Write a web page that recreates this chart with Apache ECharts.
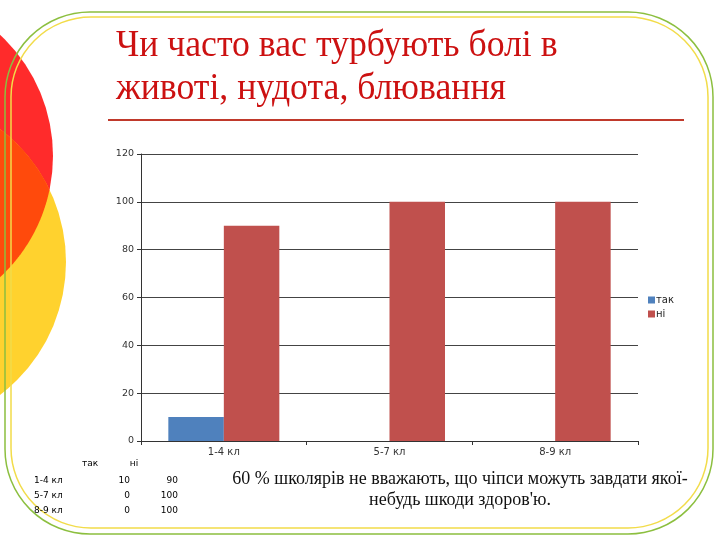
<!DOCTYPE html>
<html><head><meta charset="utf-8">
<script src="https://cdn.jsdelivr.net/npm/echarts@6/dist/echarts.min.js"></script>
<style>html,body{margin:0;padding:0;background:#fff}#c{width:720px;height:540px}</style>
</head><body><div id="c"></div>
<script>
const categories = ['1-4 кл', '5-7 кл', '8-9 кл'];
const tableRows = ['1-4 кл', '5-7 кл', '8-9 кл'];
const seriesNames = ['так', 'ні'];
const yesValues = [10, 0, 0];
const noValues = [90, 100, 100];
const yTicks = [0, 20, 40, 60, 80, 100, 120];
const titleLines = ['Чи часто вас турбують болі в', 'животі, нудота, блювання'];
const noteLines = ["60 % школярів не вважають, що чіпси можуть завдати якої-", "небудь шкоди здоров'ю."];

const chart = echarts.init(document.getElementById('c'), null, {renderer: 'canvas'});
const sans = 'DejaVu Sans';

// decorative circles (not data)
const redC = {cx: -112, cy: 156, r: 165};
const yelC = {cx: -101, cy: 262, r: 167};
function inside(p, c) { const dx = p[0] - c.cx, dy = p[1] - c.cy; return dx * dx + dy * dy <= c.r * c.r; }
const lens = [];
for (let i = 0; i <= 720; i++) {
  const a = -Math.PI / 2 + i * Math.PI * 2 / 720;
  const p = [redC.cx + redC.r * Math.cos(a), redC.cy + redC.r * Math.sin(a)];
  if (inside(p, yelC)) lens.push(p);
}
for (let i = 0; i <= 720; i++) {
  const a = Math.PI / 2 + i * Math.PI * 2 / 720;
  const p = [yelC.cx + yelC.r * Math.cos(a), yelC.cy + yelC.r * Math.sin(a)];
  if (inside(p, redC)) lens.push(p);
}

const graphics = [];
graphics.push({type: 'circle', shape: redC, style: {fill: '#ff2b2b'}, z: 0});
graphics.push({type: 'circle', shape: yelC, style: {fill: '#ffd22e'}, z: 0});
graphics.push({type: 'polygon', shape: {points: lens}, style: {fill: '#ff4a0c'}, z: 0});
// rounded borders
graphics.push({type: 'rect', shape: {x: 5, y: 12, width: 708, height: 522, r: 85}, style: {fill: 'none', stroke: '#8cbf3f', lineWidth: 1.5}, z: 1});
graphics.push({type: 'rect', shape: {x: 11, y: 17, width: 697, height: 511, r: 80}, style: {fill: 'none', stroke: '#f2dc4a', lineWidth: 1.5}, z: 1});
// title
titleLines.forEach((t, i) => {
  graphics.push({type: 'text', x: 116, y: 46 + i * 43, scaleX: 0.94, originX: 0, originY: 0, style: {text: t, font: '38px "Liberation Serif"', fill: '#cc1111', textAlign: 'left', textVerticalAlign: 'middle'}, z: 5});
});
graphics.push({type: 'line', shape: {x1: 108, y1: 120, x2: 684, y2: 120}, style: {stroke: '#c0392b', lineWidth: 2}, z: 5});
// data table
graphics.push({type: 'text', x: 90, y: 464, style: {text: seriesNames[0], font: '9px "DejaVu Sans"', fill: '#000', textAlign: 'center', textVerticalAlign: 'middle'}, z: 5});
graphics.push({type: 'text', x: 134, y: 464, style: {text: seriesNames[1], font: '9px "DejaVu Sans"', fill: '#000', textAlign: 'center', textVerticalAlign: 'middle'}, z: 5});
tableRows.forEach((r, i) => {
  const y = 481 + i * 14.7;
  graphics.push({type: 'text', x: 34, y: y, style: {text: r, font: '9px "DejaVu Sans"', fill: '#000', textAlign: 'left', textVerticalAlign: 'middle'}, z: 5});
  graphics.push({type: 'text', x: 130, y: y, style: {text: String(yesValues[i]), font: '9px "DejaVu Sans"', fill: '#000', textAlign: 'right', textVerticalAlign: 'middle'}, z: 5});
  graphics.push({type: 'text', x: 178, y: y, style: {text: String(noValues[i]), font: '9px "DejaVu Sans"', fill: '#000', textAlign: 'right', textVerticalAlign: 'middle'}, z: 5});
});
// note
noteLines.forEach((t, i) => {
  graphics.push({type: 'text', x: 460, y: 479 + i * 21, style: {text: t, font: '18px "Liberation Serif"', fill: '#111', textAlign: 'center', textVerticalAlign: 'middle'}, z: 5});
});

chart.setOption({
  animation: false,
  backgroundColor: '#fff',
  graphic: graphics,
  legend: {
    orient: 'vertical', left: 643, top: 290,
    itemWidth: 7, itemHeight: 7, itemGap: 4,
    icon: 'rect',
    textStyle: {fontFamily: sans, fontSize: 10, color: '#222', padding: [0, 0, 0, -4]},
    data: seriesNames
  },
  grid: {left: 141, right: 82, top: 154, bottom: 99, containLabel: false},
  xAxis: {
    type: 'category', data: categories,
    axisLine: {lineStyle: {color: '#333', width: 1}},
    axisTick: {show: true, length: 4, lineStyle: {color: '#333'}},
    axisLabel: {fontFamily: sans, fontSize: 10, color: '#333', margin: 6}
  },
  yAxis: {
    type: 'value', min: yTicks[0], max: yTicks[yTicks.length - 1], interval: 20,
    axisLine: {show: true, lineStyle: {color: '#333', width: 1}},
    axisTick: {show: true, length: 4, lineStyle: {color: '#333'}},
    axisLabel: {fontFamily: sans, fontSize: 9.5, color: '#333', margin: 7},
    splitLine: {lineStyle: {color: '#444', width: 1}}
  },
  series: [
    {name: seriesNames[0], type: 'bar', data: yesValues, barGap: '0%', barCategoryGap: '33%', itemStyle: {color: '#4f81bd'}},
    {name: seriesNames[1], type: 'bar', data: noValues, itemStyle: {color: '#c0504d'}}
  ]
});
</script></body></html>
